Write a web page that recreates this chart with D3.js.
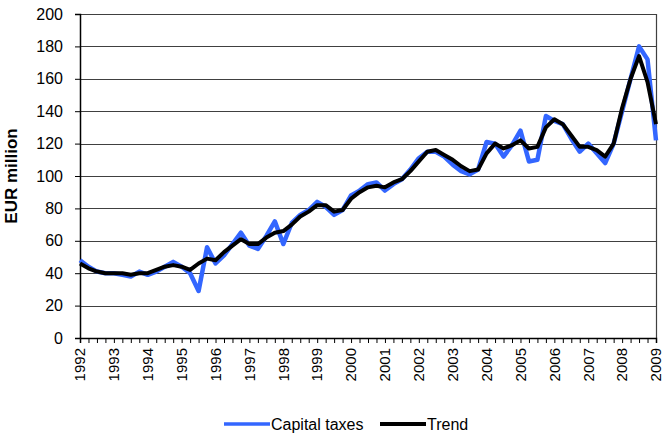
<!DOCTYPE html>
<meta charset="utf-8">
<html lang="en">
<head>
  <title>Capital taxes</title>
  <script src="https://d3js.org/d3.v7.min.js"></script>
  <style>
    body { margin: 0; background: #fff; }
    text { font-family: "Liberation Sans", Arial, sans-serif; fill: #000; }
  </style>
</head>
<body>
<div id="chart"></div>
<script>

// quarterly values, 1992Q1 .. 2009Q1
var years = ["1992","1993","1994","1995","1996","1997","1998","1999","2000",
             "2001","2002","2003","2004","2005","2006","2007","2008","2009"];

var capitalTaxes = [48,44,41,40, 40,39,38,41, 39,41,44,47, 44,40,29,56,
                    46,51,58,65, 57,55,63,72, 58,71,76,79, 84,81,76,79,
                    88,91,95,96, 91,95,98,104, 111,115,115,112, 107,103,101,104,
                    121,120,112,119, 128,109,110,137, 134,132,123,115, 120,114,108,120,
                    140,160,180,172, 122];

var trend = [46,43,41,40, 40,40,39,40, 40,42,44,45, 44,42,46,49,
             48,53,57,61, 58,58,62,65, 66,70,75,78, 82,82,78,79,
             86,90,93,94, 93,96,98,103, 109,115,116,113, 110,106,103,104,
             114,120,117,119, 122,117,118,130, 135,132,125,118, 118,116,112,120,
             142,160,174,158, 132];

var yTicks = [0,20,40,60,80,100,120,140,160,180,200];

var seriesNames = ["Capital taxes", "Trend"];

var W = 664, H = 439;
var margin = {top: 14, right: 8, bottom: 101, left: 80},
    width = W - margin.left - margin.right,
    height = H - margin.top - margin.bottom;

var svg = d3.select("#chart")
  .append("svg")
    .attr("width", W)
    .attr("height", H);

var g = svg.append("g")
    .attr("transform", "translate(" + margin.left + "," + margin.top + ")");

var x = d3.scaleLinear()
  .domain([0, capitalTaxes.length - 1])
  .range([0, width]);

var y = d3.scaleLinear()
  .domain([0, 200])
  .range([height, 0]);

// gridlines
g.append("g")
  .selectAll("line")
  .data(yTicks.slice(1))
  .enter()
  .append("line")
    .attr("x1", 0)
    .attr("x2", width)
    .attr("y1", function(d) { return Math.round(y(d)) + 0.5; })
    .attr("y2", function(d) { return Math.round(y(d)) + 0.5; })
    .style("stroke", "#404040")
    .style("stroke-width", 1.2);

// right border
g.append("line")
  .attr("x1", width + 0.5).attr("x2", width + 0.5)
  .attr("y1", 0).attr("y2", height)
  .style("stroke", "#404040")
  .style("stroke-width", 1.2);

// Y axis
var yAxis = g.append("g")
  .call(d3.axisLeft(y).tickValues(yTicks).tickSize(5).tickPadding(12));
yAxis.selectAll("text")
  .style("font-size", "16px")
  .style("font-family", "Liberation Sans, Arial, sans-serif");
yAxis.select(".domain").attr("stroke", "#000").attr("stroke-width", 1.5);

// X axis quarter ticks
var xAxis = g.append("g")
  .attr("transform", "translate(0," + height + ")")
  .call(d3.axisBottom(x).tickValues(d3.range(capitalTaxes.length)).tickSize(5).tickFormat(""));
xAxis.select(".domain").attr("stroke", "#000").attr("stroke-width", 1.5);

// X year labels
var yearAxis = g.append("g")
  .attr("transform", "translate(0," + height + ")")
  .call(d3.axisBottom(x)
    .tickValues(years.map(function(d, i) { return i * 4; }))
    .tickSize(0)
    .tickFormat(function(d) { return years[d / 4]; }));
yearAxis.select(".domain").remove();
yearAxis.selectAll("text")
  .attr("transform", "rotate(-90)")
  .attr("x", -10)
  .attr("y", 0)
  .attr("dy", "0.32em")
  .style("text-anchor", "end")
  .style("font-size", "15px")
  .style("font-family", "Liberation Sans, Arial, sans-serif");

// Y axis title
svg.append("text")
  .attr("transform", "rotate(-90)")
  .attr("x", -(margin.top + height / 2))
  .attr("y", 17)
  .style("text-anchor", "middle")
  .style("font-size", "17px")
  .style("font-weight", "bold")
  .text("EUR million");

// lines
var line = d3.line()
  .x(function(d, i) { return x(i); })
  .y(function(d) { return y(d); });

g.append("path")
  .datum(capitalTaxes)
  .attr("fill", "none")
  .attr("stroke", "#3366ff")
  .attr("stroke-width", 4.5)
  .attr("stroke-linejoin", "round")
  .attr("d", line);

g.append("path")
  .datum(trend)
  .attr("fill", "none")
  .attr("stroke", "#000")
  .attr("stroke-width", 4)
  .attr("stroke-linejoin", "round")
  .attr("d", line);

// legend
var legend = svg.append("g").attr("transform", "translate(0,424)");
var legendItems = [
  {name: seriesNames[0], color: "#3366ff", w: 3.5, x: 224},
  {name: seriesNames[1], color: "#000", w: 4, x: 380}
];
legendItems.forEach(function(d) {
  legend.append("line")
    .attr("x1", d.x).attr("x2", d.x + 46)
    .attr("y1", 0).attr("y2", 0)
    .style("stroke", d.color)
    .style("stroke-width", d.w);
  legend.append("text")
    .attr("x", d.x + 47)
    .attr("y", 0)
    .attr("dy", "0.35em")
    .style("font-size", "16px")
    .text(d.name);
});

</script>
</body>
</html>
